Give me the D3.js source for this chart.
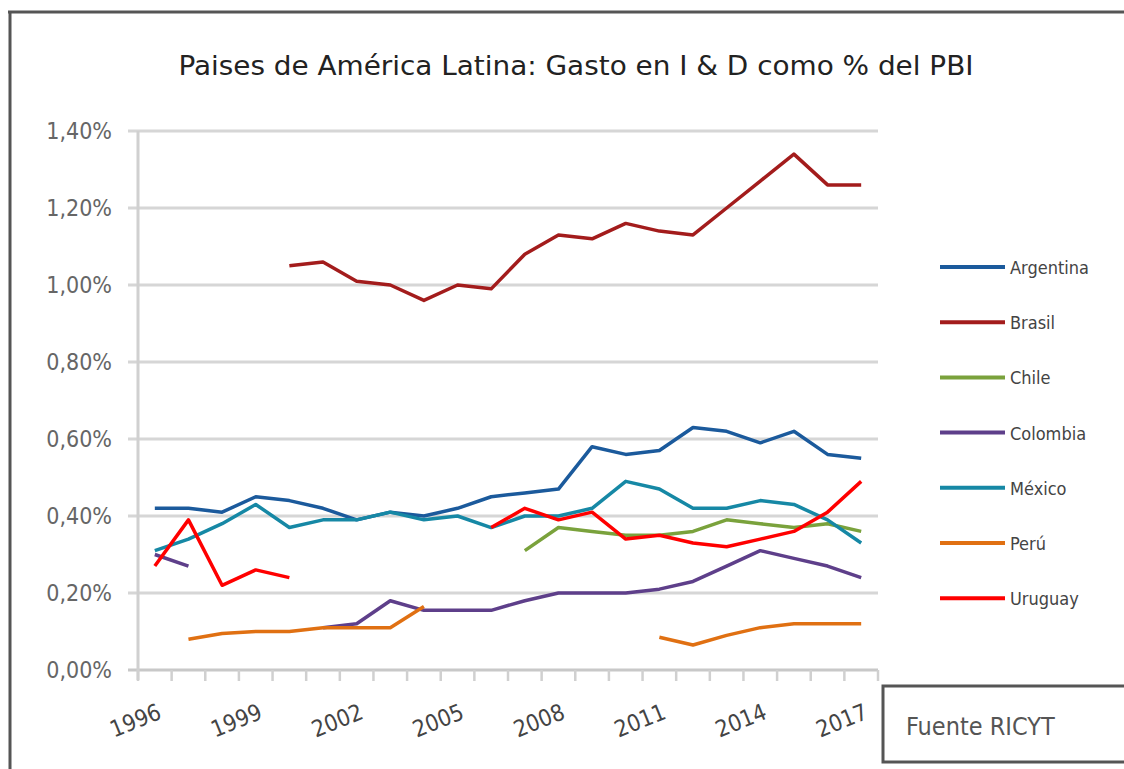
<!DOCTYPE html>
<html>
<head><meta charset="utf-8">
<style>
  body { margin: 0; background: #fff; }
  svg text { font-family: "DejaVu Sans Condensed", "Liberation Sans Narrow", "Liberation Sans", sans-serif; }
</style>
</head>
<body>
<script src="https://d3js.org/d3.v7.min.js"></script>
<script>
var years = d3.range(1996, 2018);
var yTicks = [0, 0.2, 0.4, 0.6, 0.8, 1.0, 1.2, 1.4];
var xLabelYears = [1996, 1999, 2002, 2005, 2008, 2011, 2014, 2017];
var countries = ["Argentina", "Brasil", "Chile", "Colombia", "México", "Perú", "Uruguay"];
var colors = ["#1b5a9c", "#a31c1c", "#7aa23c", "#5e3f8a", "#1688a5", "#e07012", "#ff0000"];

// valores 1996..2017 (null = sin dato)
var argentina = [0.42,0.42,0.41,0.45,0.44,0.42,0.39,0.41,0.40,0.42,0.45,0.46,0.47,0.58,0.56,0.57,0.63,0.62,0.59,0.62,0.56,0.55];
var brasil    = [null,null,null,null,1.05,1.06,1.01,1.00,0.96,1.00,0.99,1.08,1.13,1.12,1.16,1.14,1.13,1.20,1.27,1.34,1.26,1.26];
var chile     = [null,null,null,null,null,null,null,null,null,null,null,0.31,0.37,0.36,0.35,0.35,0.36,0.39,0.38,0.37,0.38,0.36];
var colombia  = [0.30,0.27,null,null,null,0.11,0.12,0.18,0.155,0.155,0.155,0.18,0.20,0.20,0.20,0.21,0.23,0.27,0.31,0.29,0.27,0.24];
var mexico    = [0.31,0.34,0.38,0.43,0.37,0.39,0.39,0.41,0.39,0.40,0.37,0.40,0.40,0.42,0.49,0.47,0.42,0.42,0.44,0.43,0.39,0.33];
var peru      = [null,0.08,0.095,0.10,0.10,0.11,0.11,0.11,0.165,null,null,null,null,null,null,0.085,0.065,0.09,0.11,0.12,0.12,0.12];
var uruguay   = [0.27,0.39,0.22,0.26,0.24,null,null,null,null,null,0.37,0.42,0.39,0.41,0.34,0.35,0.33,0.32,0.34,0.36,0.41,0.49];
var seriesValues = [argentina, brasil, chile, colombia, mexico, peru, uruguay];

var width = 1124, height = 769;
var svg = d3.select("body").append("svg").attr("width", width).attr("height", height);

// marco exterior
svg.append("line").attr("x1", 8).attr("x2", width).attr("y1", 12).attr("y2", 12)
  .attr("stroke", "#555").attr("stroke-width", 3);
svg.append("line").attr("x1", 10).attr("x2", 10).attr("y1", 12).attr("y2", height)
  .attr("stroke", "#555").attr("stroke-width", 3);

svg.append("text").attr("x", 576).attr("y", 75).attr("text-anchor", "middle")
  .attr("font-size", 26).attr("fill", "#222")
  .attr("textLength", 795).attr("lengthAdjust", "spacingAndGlyphs")
  .text("Paises de América Latina: Gasto en I & D como % del PBI");

var plotL = 138, plotR = 878, plotT = 131, plotB = 670;
var x = d3.scaleBand().domain(years).range([plotL, plotR]);
var y = d3.scaleLinear().domain([0, 1.4]).range([plotB, plotT]);

// grilla
svg.append("g").selectAll("line").data(yTicks).enter().append("line")
  .attr("x1", plotL - 10).attr("x2", plotR)
  .attr("y1", d => y(d)).attr("y2", d => y(d))
  .attr("stroke", d => d === 0 ? "#c8c8c8" : "#d6d6d6").attr("stroke-width", 3);

svg.append("line").attr("x1", plotL).attr("x2", plotL).attr("y1", plotT).attr("y2", plotB + 10)
  .attr("stroke", "#d0d0d0").attr("stroke-width", 3);

svg.append("g").selectAll("text").data(yTicks).enter().append("text")
  .attr("x", 112).attr("y", d => y(d) + 8).attr("text-anchor", "end")
  .attr("font-size", 23).attr("fill", "#666")
  .text(d => d3.format(".2f")(d).replace(".", ",") + "%");

// marcas eje x
var tickPos = years.map(d => x(d)).concat([plotR]);
svg.append("g").selectAll("line").data(tickPos).enter().append("line")
  .attr("x1", d => d).attr("x2", d => d).attr("y1", plotB).attr("y2", plotB + 11)
  .attr("stroke", "#d0d0d0").attr("stroke-width", 2.5);

svg.append("g").selectAll("text").data(xLabelYears).enter().append("text")
  .attr("text-anchor", "end").attr("font-size", 23).attr("fill", "#444")
  .attr("transform", d => "translate(" + (x(d) + x.bandwidth() / 2 + 8) + ",718) rotate(-22)")
  .text(d => d);

// lineas
var line = d3.line()
  .defined(d => d.v !== null)
  .x(d => x(d.year) + x.bandwidth() / 2)
  .y(d => y(d.v));

svg.append("g").selectAll("path").data(seriesValues).enter().append("path")
  .attr("d", vals => line(vals.map((v, i) => ({year: years[i], v: v}))))
  .attr("fill", "none")
  .attr("stroke", (d, i) => colors[i])
  .attr("stroke-width", 3.5)
  .attr("stroke-linejoin", "round");

// leyenda
var legend = svg.append("g").selectAll("g").data(countries).enter().append("g")
  .attr("transform", (d, i) => "translate(940," + (267 + i * 55.2) + ")");
legend.append("line").attr("x1", 0).attr("x2", 65)
  .attr("stroke", (d, i) => colors[i]).attr("stroke-width", 4);
legend.append("text").attr("x", 70).attr("y", 7).attr("font-size", 18).attr("fill", "#444")
  .text(d => d);

// fuente
svg.append("rect").attr("x", 883).attr("y", 686).attr("width", 260).attr("height", 76)
  .attr("fill", "#fff").attr("stroke", "#555").attr("stroke-width", 3);
svg.append("text").attr("x", 906).attr("y", 735).attr("font-size", 25).attr("fill", "#555")
  .text("Fuente RICYT");
</script>
</body>
</html>
